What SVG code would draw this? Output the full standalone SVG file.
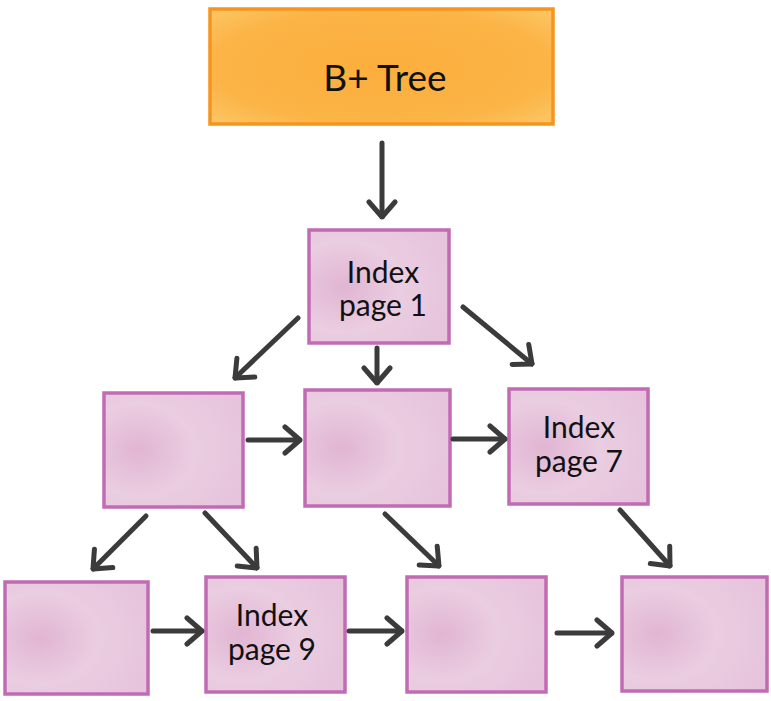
<svg xmlns="http://www.w3.org/2000/svg" width="771" height="701" viewBox="0 0 771 701">
<style>
  .pg rect { fill: url(#pinkFill); stroke: #c26bb5; stroke-width: 3.5; }
  .lbl { font-family: "Lato", "Open Sans", sans-serif; fill: #111; text-anchor: middle; }
  .conn line { stroke: #3b3b3b; stroke-width: 5; stroke-linecap: round; marker-end: url(#head); }
</style>
<defs>
  <radialGradient id="pinkFill" cx="0.25" cy="0.5" r="0.8">
    <stop offset="0" stop-color="#e1b5d3"/>
    <stop offset="0.5" stop-color="#eacde1"/>
    <stop offset="1" stop-color="#e6c4dc"/>
  </radialGradient>
  <radialGradient id="orangeFill" cx="0.5" cy="0.5" r="0.7">
    <stop offset="0" stop-color="#fbae3c"/>
    <stop offset="0.7" stop-color="#fbb446"/>
    <stop offset="1" stop-color="#fcc766"/>
  </radialGradient>
  <marker id="head" viewBox="-20 -16 22 32" markerWidth="22" markerHeight="32" refX="0" refY="0" orient="auto" markerUnits="userSpaceOnUse">
    <path d="M-15,-13 L0,0 L-15,13" fill="none" stroke="#3b3b3b" stroke-width="5" stroke-linecap="round" stroke-linejoin="round"/>
  </marker>
</defs>

<g id="btree">
  <rect x="210" y="9" width="343" height="115" fill="url(#orangeFill)" stroke="#f7941d" stroke-width="3.5"/>
  <text class="lbl" x="385" y="91" font-size="37">B+ Tree</text>
</g>

<g id="page1" class="pg">
  <rect x="309" y="230" width="140" height="113"/>
  <text class="lbl" x="383" y="283" font-size="30">Index</text>
  <text class="lbl" x="383" y="316" font-size="30">page 1</text>
</g>

<g id="pageA" class="pg">
  <rect x="104" y="393" width="139" height="114"/>
</g>
<g id="pageB" class="pg">
  <rect x="305" y="390" width="145" height="116"/>
</g>
<g id="page7" class="pg">
  <rect x="509" y="389" width="139" height="115"/>
  <text class="lbl" x="579" y="438" font-size="30">Index</text>
  <text class="lbl" x="579" y="472" font-size="30">page 7</text>
</g>

<g id="pageD" class="pg">
  <rect x="5" y="582" width="143" height="112"/>
</g>
<g id="page9" class="pg">
  <rect x="206" y="577" width="139" height="115"/>
  <text class="lbl" x="272" y="626" font-size="30">Index</text>
  <text class="lbl" x="272" y="660" font-size="30">page 9</text>
</g>
<g id="pageF" class="pg">
  <rect x="407" y="577" width="139" height="115"/>
</g>
<g id="pageG" class="pg">
  <rect x="622" y="577" width="145" height="114"/>
</g>

<g id="connectors" class="conn">
  <line x1="382" y1="143" x2="382" y2="217"/>
  <line x1="298" y1="318" x2="235" y2="378"/>
  <line x1="377" y1="348" x2="377" y2="383"/>
  <line x1="463" y1="307" x2="532" y2="364"/>
  <line x1="248" y1="440" x2="300" y2="440"/>
  <line x1="453" y1="439" x2="505" y2="439"/>
  <line x1="146" y1="516" x2="93" y2="569"/>
  <line x1="205" y1="513" x2="257" y2="568"/>
  <line x1="385" y1="514" x2="439" y2="566"/>
  <line x1="620" y1="510" x2="670" y2="566"/>
  <line x1="153" y1="631" x2="202" y2="631"/>
  <line x1="349" y1="631" x2="402" y2="631"/>
  <line x1="557" y1="633" x2="612" y2="633"/>
</g>
</svg>
